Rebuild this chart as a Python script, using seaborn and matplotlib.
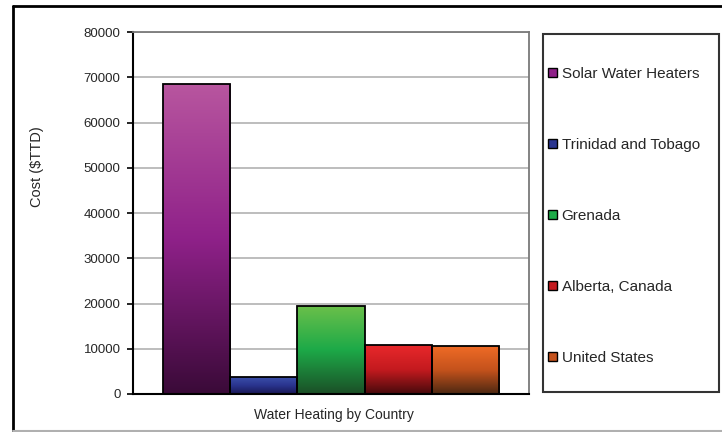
import numpy as np
import pandas as pd
import matplotlib
matplotlib.use('Agg')
import matplotlib.pyplot as plt
import seaborn as sns
from matplotlib.colors import LinearSegmentedColormap
from matplotlib.patches import Patch, Rectangle
from matplotlib.lines import Line2D

# Данные
series = ['Solar Water Heaters', 'Trinidad and Tobago', 'Grenada', 'Alberta, Canada', 'United States']
costs = [68600, 3800, 19500, 10800, 10500]
group = 'Water Heating by Country'

# градиенты: верх, середина, низ
top_colors = ['#B8569F', '#3D52AC', '#6CC04A', '#E8282B', '#EF6B26']
mid_colors = ['#8F2189', '#2A3590', '#1DAA48', '#C41A1F', '#C4521C']
bottom_colors = ['#3A0A38', '#1A1855', '#1B4F27', '#470A0C', '#4C2812']

yticks = [0, 10000, 20000, 30000, 40000, 50000, 60000, 70000, 80000]

df = pd.DataFrame({'group': [group] * len(series), 'series': series, 'cost': costs})

sns.set_style('white')
plt.rcParams['font.family'] = ['Liberation Sans', 'DejaVu Sans']

W, H = 722, 432
fig = plt.figure(figsize=(W / 100, H / 100), dpi=100)
ax = fig.add_axes([133 / W, (H - 394) / H, (529 - 133) / W, (394 - 32) / H])

sns.barplot(data=df, x='group', y='cost', hue='series', hue_order=series,
            palette=mid_colors, width=0.846, gap=0, dodge=True,
            edgecolor='black', linewidth=1.3, legend=False, ax=ax)

# градиентная заливка столбцов
bars = [p for p in ax.patches if p.get_height() > 0]
for p, c_top, c_mid, c_bot in zip(bars, top_colors, mid_colors, bottom_colors):
    cmap = LinearSegmentedColormap.from_list('g', [c_bot, c_mid, c_top])
    x0, w, h = p.get_x(), p.get_width(), p.get_height()
    grad = np.linspace(1, 0, 256).reshape(-1, 1)
    im = ax.imshow(grad, extent=[x0, x0 + w, 0, h], aspect='auto', cmap=cmap,
                   vmin=0, vmax=1, zorder=2)
    im.set_clip_path(p)
    p.set_facecolor('none')
    p.set_zorder(3)

ax.set_xlim(-0.5, 0.5)
ax.set_ylim(0, 80000)
ax.set_yticks(yticks)
ax.set_yticklabels([str(t) for t in yticks], fontsize=9.5)
ax.set_xticks([])
ax.yaxis.grid(True, color='#BDBDBD', linewidth=1.4)
ax.set_axisbelow(True)
ax.tick_params(axis='y', direction='out', length=4, width=1.2, color='black', pad=5, left=True)

for s in ['left', 'bottom']:
    ax.spines[s].set_color('black')
    ax.spines[s].set_linewidth(1.5)
for s in ['top', 'right']:
    ax.spines[s].set_color('#7a7a7a')
    ax.spines[s].set_linewidth(1.3)

ax.set_ylabel('Cost ($TTD)', fontsize=10.5)
ax.yaxis.set_label_coords(-0.225, 0.627)
ax.set_xlabel('Water Heating by Country', fontsize=10)
ax.xaxis.set_label_coords(0.508, -0.040)

# легенда с отдельной рамкой
fig.patches.append(Rectangle((543 / W, 1 - 392 / H), (719 - 543) / W, (392 - 34) / H,
                             transform=fig.transFigure, fill=False, edgecolor='#333333',
                             linewidth=1.5))
handles = [Patch(facecolor=c, edgecolor='black', linewidth=1.0) for c in mid_colors]
fig.legend(handles, series, loc='upper left', bbox_to_anchor=(548 / W, 1 - 67 / H),
           frameon=False, fontsize=11, handlelength=0.6, handleheight=0.6,
           handletextpad=0.3, labelspacing=3.73, borderpad=0, borderaxespad=0)

# внешняя рамка
fig.lines.append(Line2D([13 / W, 13 / W], [0, 1 - 6 / H], transform=fig.transFigure,
                        color='black', linewidth=2))
fig.lines.append(Line2D([13 / W, 1], [1 - 6 / H, 1 - 6 / H], transform=fig.transFigure,
                        color='black', linewidth=2))
fig.lines.append(Line2D([13 / W, 1], [1.5 / H, 1.5 / H], transform=fig.transFigure,
                        color='#b0b0b0', linewidth=1.5))

fig.savefig('out.png', dpi=100)
